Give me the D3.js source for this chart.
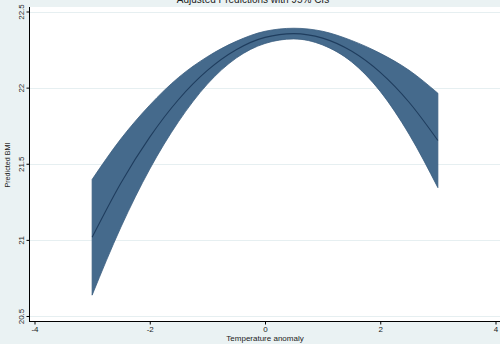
<!DOCTYPE html>
<html>
<head>
<meta charset="utf-8">
<script src="https://cdn.jsdelivr.net/npm/d3@7"></script>
<style>
  html, body { margin: 0; padding: 0; background: #eaf2f3; }
  svg { display: block; font-family: "Liberation Sans", Arial, sans-serif; }
</style>
</head>
<body>
<svg id="chart" width="500" height="344"></svg>
<script>
// Predicted BMI by temperature anomaly (quadratic fit with 95% CI)
const tempAnomaly = [-3, -2.5, -2, -1.5, -1, -0.5, 0, 0.5, 1, 1.5, 2, 2.5, 3];
const predictedBMI = [21.017, 21.374, 21.675, 21.922, 22.113, 22.249, 22.330, 22.355, 22.325, 22.240, 22.100, 21.904, 21.653];
const ciLower = [20.637, 21.084, 21.465, 21.777, 22.023, 22.194, 22.290, 22.320, 22.280, 22.170, 21.975, 21.694, 21.343];
const ciUpper = [21.397, 21.664, 21.885, 22.067, 22.203, 22.304, 22.370, 22.390, 22.370, 22.310, 22.225, 22.114, 21.963];
const xTicks = [-4, -2, 0, 2, 4];
const yTicks = [20.5, 21, 21.5, 22, 22.5];

const svg = d3.select("#chart");
const W = 500, H = 344;
const plot = { left: 30, right: 500, top: 7, bottom: 321 };

const x = d3.scaleLinear().domain([-4, 4]).range([34.5, 495.5]);
const y = d3.scaleLinear().domain([20.5, 22.5]).range([316, 11.5]);

// plain hyphen-minus tick labels
const plainFormat = d => String(d);

// backgrounds
svg.append("rect").attr("width", W).attr("height", H).attr("fill", "#eaf2f3");
svg.append("rect")
  .attr("x", plot.left).attr("y", plot.top)
  .attr("width", plot.right - plot.left).attr("height", plot.bottom - plot.top)
  .attr("fill", "#ffffff");

// horizontal gridlines
svg.append("g").selectAll("line").data(yTicks).join("line")
  .attr("x1", plot.left).attr("x2", plot.right)
  .attr("y1", d => Math.round(y(d)) + 0.5).attr("y2", d => Math.round(y(d)) + 0.5)
  .attr("stroke", "#e6eff1").attr("stroke-width", 1);

const rows = tempAnomaly.map((t, i) => ({ t, m: predictedBMI[i], lo: ciLower[i], hi: ciUpper[i] }));

// confidence band
const band = d3.area()
  .x(d => x(d.t)).y0(d => y(d.lo)).y1(d => y(d.hi))
  .curve(d3.curveMonotoneX);
svg.append("path").datum(rows)
  .attr("d", band)
  .attr("fill", "#456a8c")
  .attr("stroke", "#3a5d7f").attr("stroke-width", 0.8);

// fitted line
const fit = d3.line().x(d => x(d.t)).y(d => y(d.m)).curve(d3.curveMonotoneX);
svg.append("path").datum(rows)
  .attr("d", fit)
  .attr("fill", "none")
  .attr("stroke", "#1f3d5e").attr("stroke-width", 1.1);

// y axis
const yAxis = svg.append("g")
  .attr("transform", `translate(${plot.left - 0.5},0)`)
  .call(d3.axisLeft(y).tickValues(yTicks).tickSize(3).tickPadding(2).tickFormat(plainFormat));
yAxis.select(".domain").attr("d", `M0,${plot.top}V${plot.bottom}`).attr("stroke", "#000");
yAxis.selectAll(".tick line").attr("stroke", "#000");
yAxis.selectAll(".tick text")
  .attr("transform", "rotate(-90)")
  .attr("x", 0).attr("y", -6)
  .attr("dy", 0)
  .attr("text-anchor", "middle")
  .attr("font-size", 8).attr("fill", "#222")
  .attr("font-family", "Liberation Sans, Arial, sans-serif");

// x axis
const xAxis = svg.append("g")
  .attr("transform", `translate(0,${plot.bottom + 0.5})`)
  .call(d3.axisBottom(x).tickValues(xTicks).tickSize(3).tickPadding(2).tickFormat(plainFormat));
xAxis.select(".domain").attr("d", `M${plot.left - 1},0H${plot.right}`).attr("stroke", "#000");
xAxis.selectAll(".tick line").attr("stroke", "#000");
xAxis.selectAll(".tick text")
  .attr("font-size", 8).attr("fill", "#222")
  .attr("font-family", "Liberation Sans, Arial, sans-serif");

// titles
svg.append("text")
  .attr("x", 265).attr("y", 341)
  .attr("text-anchor", "middle").attr("font-size", 8).attr("fill", "#222")
  .text("Temperature anomaly");

svg.append("text")
  .attr("transform", "translate(10,165) rotate(-90)")
  .attr("text-anchor", "middle").attr("font-size", 7.2).attr("fill", "#222")
  .text("Predicted BMI");

svg.append("text")
  .attr("x", 253).attr("y", 2.5)
  .attr("text-anchor", "middle").attr("font-size", 10).attr("fill", "#222")
  .text("Adjusted Predictions with 95% CIs");
</script>
</body>
</html>
